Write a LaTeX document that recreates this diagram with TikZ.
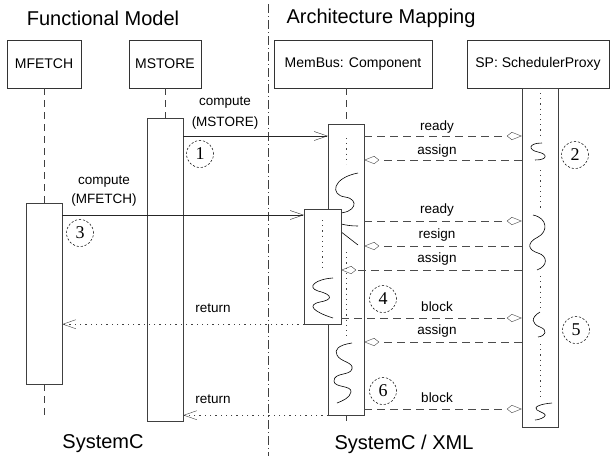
\documentclass[tikz,border=0pt]{standalone}
\usepackage{fontspec}
\setmainfont{Liberation Sans}
\newfontfamily\numfont{Liberation Serif}
\usetikzlibrary{arrows.meta}

\begin{document}
\begin{tikzpicture}[x=1pt,y=-1pt,
  obj/.style={draw=black!80, minimum height=48pt, inner sep=0pt, font=\fontsize{14}{16}\selectfont},
  act/.style={draw=black!75, fill=white, minimum width=36pt, inner sep=0pt},
  life/.style={draw=black!75, dash pattern=on 7pt off 5pt},
  inner/.style={draw=black!75, dash pattern=on 1.2pt off 4pt},
  sep/.style={draw=black!75, dash pattern=on 9pt off 3pt on 1pt off 3pt},
  msg/.style={draw=black!85, -{Straight Barb[length=13pt,width=9pt]}},
  sig/.style={draw=black!70, dash pattern=on 8pt off 5pt, -{Kite[open,length=15pt,width=8pt,inset=5pt]}},
  ret/.style={draw=black!75, dash pattern=on 1.3pt off 4pt, -{Straight Barb[length=13pt,width=9pt]}},
  wave/.style={draw=black, line width=0.6pt},
  numcirc/.style={circle, draw=black!85, line width=0.6pt, dash pattern=on 2.2pt off 1.8pt, minimum size=27pt, inner sep=0pt, font=\numfont\fontsize{18}{19}\selectfont},
  lbl/.style={inner sep=0pt, font=\fontsize{13.5}{15}\selectfont},
  title/.style={inner sep=0pt, font=\fontsize{20}{22}\selectfont}]
\useasboundingbox (0,0) rectangle (611,456);

\node[title] (fmTitle) at (103,18) {Functional Model};
\node[title] (amTitle) at (381,18) {Architecture Mapping};
\node[title] (scTitle) at (103,444) {SystemC};
\node[title] (sxTitle) at (404,444) {SystemC / XML};

\coordinate (sepTop) at (268,4);
\coordinate (sepBot) at (268,456);
\path[sep] (sepTop) -- (sepBot);

\node[obj, minimum width=74pt] (mfetch) at (44,64) {MFETCH};
\node[obj, minimum width=72pt] (mstore) at (165,64) {MSTORE};
\node[obj, minimum width=158pt] (membus) at (353,64) {MemBus: Component};
\node[obj, minimum width=142pt] (sp) at (538,64) {SP: SchedulerProxy};

\coordinate (mfetchEnd) at (44,419);
\coordinate (busEnd) at (346,421);

\node[act, minimum height=181pt] (mfetchAct) at (44,293.5) {};
\node[act, minimum height=303pt] (mstoreAct) at (165,269.5) {};
\node[act, minimum height=291pt] (busAct) at (346,269.5) {};
\node[act, minimum height=339pt] (spAct) at (540,257.5) {};

\path[life] (mfetch.south) -- (mfetchAct.north);
\path[life] (mfetchAct.south) -- (mfetchEnd);
\path[life] (mstore.south) -- (mstoreAct.north);
\path[life] (busAct.north |- membus.south) -- (busAct.north);
\path[life] (busAct.south) -- (busEnd);

\path[inner] (busAct.north |- 0,138) -- (busAct.north |- 0,164);
\path[inner] (busAct.north |- 0,252) -- (busAct.north |- 0,338);
\path[inner] (spAct.north) -- (spAct.north |- 0,136);
\path[inner] (spAct.north |- 0,170) -- (spAct.north |- 0,210);
\path[inner] (spAct.north |- 0,276) -- (spAct.north |- 0,308);
\path[inner] (spAct.north |- 0,344) -- (spAct.north |- 0,397);

\draw[wave] (358,173) .. controls (332,178) and (330,195) .. (345,197) .. controls (360,199) and (356,214) .. (336,213) .. controls (322,212) and (330,226) .. (358,226);
\draw[wave] (340,231) -- (358,245);
\draw[wave] (352,343) .. controls (338,345) and (334,350) .. (337,355) .. controls (340,362) and (354,362) .. (352,369) .. controls (350,376) and (334,372) .. (334,381) .. controls (334,388) and (352,385) .. (351,392) .. controls (350,398) and (342,401) .. (337,403);
\draw[wave] (542,143) .. controls (528,143) and (528,150) .. (538,152) .. controls (548,154) and (548,160) .. (535,160);
\draw[wave] (533,215) .. controls (548,218) and (548,232) .. (538,237) .. controls (526,243) and (528,250) .. (538,253) .. controls (548,256) and (548,266) .. (537,270);
\draw[wave] (540,312) .. controls (530,318) and (532,324) .. (540,327) .. controls (548,330) and (546,336) .. (538,337);
\draw[wave] (552,403) .. controls (540,404) and (533,407) .. (537,410) .. controls (542,413) and (548,414) .. (544,417) .. controls (541,419) and (537,420) .. (535,420);

\node[act, minimum width=37pt, minimum height=115pt] (busSub) at (322.5,266.5) {};
\path[inner] (busSub.north |- 0,220) -- (busSub.north |- 0,271);
\draw[wave] (333,278) .. controls (316,279) and (306,287) .. (318,291) .. controls (334,295) and (332,300) .. (320,302) .. controls (306,305) and (314,312) .. (333,318);

\path[msg] (mstoreAct.east |- 0,136) -- (busAct.west |- 0,136);
\path[msg] (mfetchAct.east |- 0,215) -- (busSub.west |- 0,215);
\path[sig] (busAct.east |- 0,136) -- (spAct.west |- 0,136);
\path[sig] (spAct.west |- 0,160) -- (busAct.east |- 0,160);
\path[sig] (busAct.east |- 0,221) -- (spAct.west |- 0,221);
\path[sig] (spAct.west |- 0,246) -- (busAct.east |- 0,246);
\path[sig] (spAct.west |- 0,270) -- (busSub.east |- 0,270);
\path[sig] (busSub.east |- 0,318) -- (spAct.west |- 0,318);
\path[sig] (spAct.west |- 0,342) -- (busAct.east |- 0,342);
\path[sig] (busAct.east |- 0,409) -- (spAct.west |- 0,409);
\path[ret] (busSub.south west) -- (mfetchAct.east |- busSub.south);
\path[ret] (busAct.south west) -- (mstoreAct.east |- busAct.south);

\node[lbl] (cmpStore) at (225,103) {compute};
\node[lbl] (cmpStoreArg) at (225,123) {(MSTORE)};
\node[lbl] (cmpFetch) at (104,182) {compute};
\node[lbl] (cmpFetchArg) at (104,200) {(MFETCH)};
\node[lbl] (rdyA) at (437,127) {ready};
\node[lbl] (asgA) at (437,151) {assign};
\node[lbl] (rdyB) at (437,210) {ready};
\node[lbl] (rsgB) at (437,235) {resign};
\node[lbl] (asgB) at (437,259) {assign};
\node[lbl] (blkB) at (437,307) {block};
\node[lbl] (asgC) at (437,331) {assign};
\node[lbl] (blkC) at (437,398) {block};
\node[lbl] (retA) at (213,308) {return};
\node[lbl] (retB) at (213,399) {return};

\node[numcirc] (n1) at (200,154) {1};
\node[numcirc] (n2) at (575,155) {2};
\node[numcirc] (n3) at (80,233) {3};
\node[numcirc] (n4) at (383,299) {4};
\node[numcirc] (n5) at (576,330) {5};
\node[numcirc] (n6) at (383,391) {6};
\end{tikzpicture}
\end{document}
